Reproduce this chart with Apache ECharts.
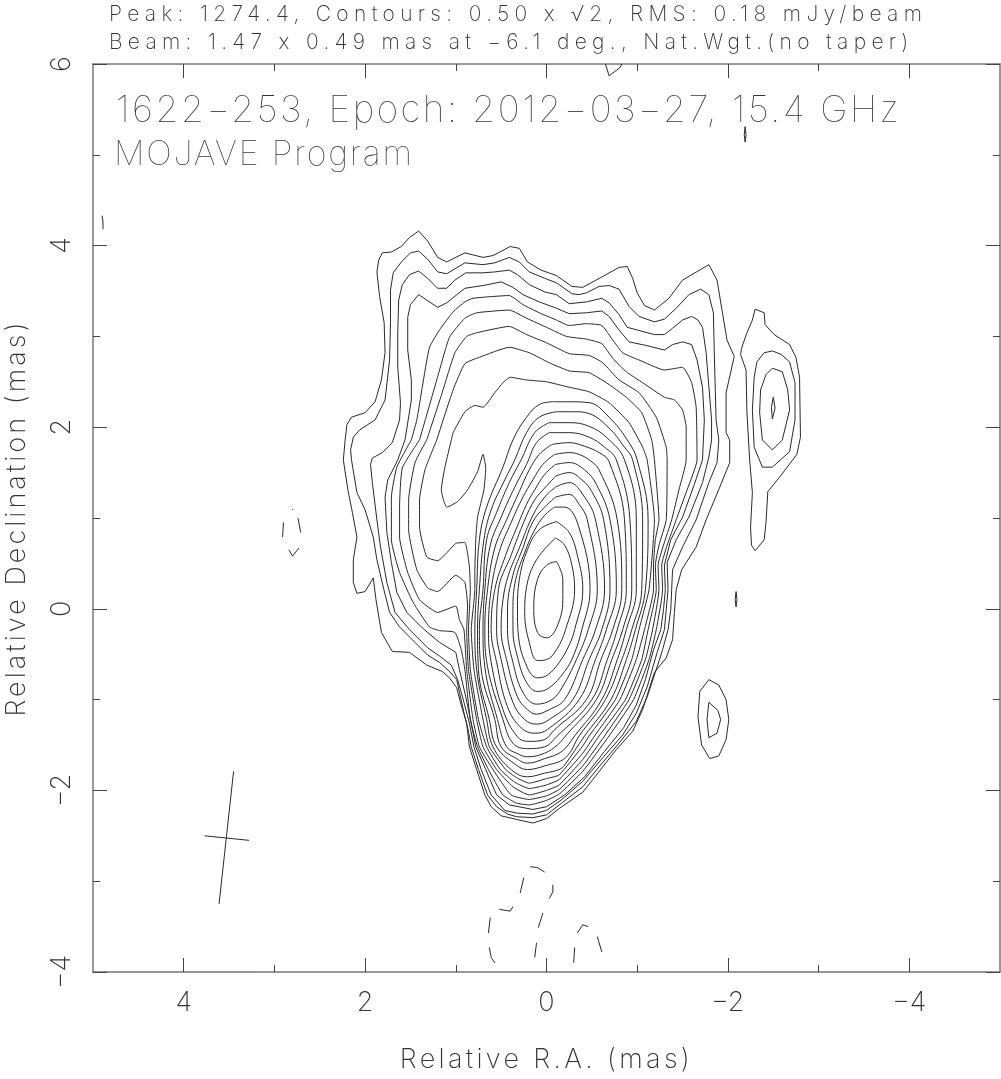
<!DOCTYPE html>
<html>
<head>
<meta charset="utf-8">
<style>html,body{margin:0;padding:0;background:#fff}#c{width:1001px;height:1079px}#c svg{will-change:transform;transform:translateZ(0)}</style>
<script src="https://cdn.jsdelivr.net/npm/echarts@6/dist/echarts.min.js"></script>
</head>
<body>
<div id="c"></div>
<script>
// Tick labels / positions (mas)
const xMajor=[-4,-2,0,2,4], xMinor=[-3,-1,1,3];
const yMajor=[-4,-2,0,2,4,6], yMinor=[-3,-1,1,3,5];
// Text
const line1="Peak: 1274.4, Contours: 0.50 x √2, RMS: 0.18 mJy/beam";
const line2="Beam: 1.47 x 0.49 mas at −6.1 deg., Nat.Wgt.(no taper)";
const line3="1622−253, Epoch: 2012−03−27, 15.4 GHz";
const line4="MOJAVE Program";
const xName="Relative R.A. (mas)", yName="Relative Declination (mas)";
// Contours: [R.A., Dec.] in mas, outermost to innermost
const c1=[[1.41,4.16],[1.51,4.09],[1.60,3.99],[1.71,3.93],[1.81,3.92],[1.85,3.84],[1.87,3.71],[1.84,3.44],[1.79,3.15],[1.78,2.82],[1.82,2.52],[1.89,2.28],[2.00,2.16],[2.15,2.11],[2.20,2.03],[2.22,1.86],[2.24,1.64],[2.19,1.31],[2.14,1.06],[2.09,.79],[2.13,.54],[2.13,.29],[2.09,.17],[2.00,.19],[1.91,.34],[1.88,.10],[1.82,-.26],[1.70,-.47],[1.51,-.48],[1.32,-.62],[1.15,-.69],[1.07,-.76],[.99,-.87],[.94,-1.06],[.88,-1.26],[.85,-1.52],[.77,-1.77],[.68,-2.05],[.61,-2.18],[.50,-2.28],[.33,-2.32],[.15,-2.36],[0,-2.31],[-.14,-2.20],[-.40,-2.02],[-.55,-1.83],[-.77,-1.55],[-.95,-1.35],[-1.06,-1.11],[-1.19,-.70],[-1.32,-.54],[-1.39,-.34],[-1.41,-.04],[-1.43,.21],[-1.49,.43],[-1.65,.68],[-1.76,.98],[-1.91,1.34],[-2.02,1.61],[-2.02,1.86],[-1.98,1.94],[-1.98,2.38],[-2.07,2.78],[-1.99,2.96],[-1.94,3.26],[-1.88,3.62],[-1.79,3.79],[-1.50,3.62],[-1.35,3.42],[-1.19,3.29],[-1.08,3.34],[-1.00,3.48],[-.95,3.64],[-.89,3.77],[-.80,3.76],[-.62,3.66],[-.40,3.54],[-.28,3.55],[-.11,3.67],[.06,3.73],[.21,3.82],[.30,3.97],[.40,3.99],[.59,3.89],[.70,3.87],[.90,3.92],[1.10,3.82],[1.20,3.87],[1.31,4.05]];
const c2=[[1.41,3.94],[1.50,3.92],[1.60,3.82],[1.69,3.70],[1.72,3.51],[1.72,3.15],[1.73,2.74],[1.78,2.30],[1.89,2.08],[2.06,1.97],[2.13,1.89],[2.16,1.75],[2.15,1.64],[2.09,1.28],[2.00,1.09],[1.91,.79],[1.87,.54],[1.80,.24],[1.73,-.04],[1.62,-.20],[1.45,-.37],[1.31,-.51],[1.18,-.59],[1.07,-.69],[.99,-.78],[.96,-.92],[.90,-1.19],[.86,-1.35],[.83,-1.52],[.75,-1.77],[.65,-2.05],[.55,-2.18],[.43,-2.26],[.33,-2.29],[.15,-2.30],[0,-2.27],[-.14,-2.16],[-.40,-1.96],[-.58,-1.74],[-.80,-1.48],[-.99,-1.24],[-1.11,-.97],[-1.21,-.67],[-1.28,-.45],[-1.34,-.23],[-1.37,-.01],[-1.38,.21],[-1.39,.43],[-1.50,.68],[-1.65,.98],[-1.79,1.39],[-1.88,1.61],[-1.90,1.86],[-1.87,2.08],[-1.85,2.82],[-1.84,3.26],[-1.79,3.46],[-1.70,3.52],[-1.57,3.46],[-1.43,3.31],[-1.30,3.19],[-1.19,3.16],[-1.02,3.22],[-.91,3.33],[-.80,3.52],[-.69,3.56],[-.58,3.55],[-.44,3.48],[-.36,3.46],[-.28,3.47],[-.11,3.59],[.02,3.64],[.19,3.71],[.30,3.82],[.41,3.87],[.57,3.81],[.70,3.79],[.90,3.81],[1.10,3.69],[1.20,3.71],[1.31,3.85]];
const c3=[[1.41,3.72],[1.51,3.68],[1.59,3.57],[1.63,3.40],[1.64,3.04],[1.64,2.66],[1.61,2.27],[1.62,2.08],[1.70,1.83],[1.81,1.72],[1.92,1.66],[1.94,1.59],[1.92,1.39],[1.87,.98],[1.83,.68],[1.76,.29],[1.67,-.04],[1.51,-.23],[1.31,-.43],[1.18,-.52],[1.05,-.62],[.98,-.78],[.91,-1.03],[.85,-1.26],[.80,-1.52],[.72,-1.77],[.61,-2.05],[.46,-2.22],[.33,-2.25],[.15,-2.26],[0,-2.22],[-.17,-2.10],[-.40,-1.90],[-.62,-1.64],[-.84,-1.39],[-.99,-1.15],[-1.11,-.86],[-1.22,-.48],[-1.30,-.23],[-1.32,-.01],[-1.34,.21],[-1.33,.51],[-1.43,.76],[-1.57,1.01],[-1.72,1.39],[-1.79,1.67],[-1.82,1.86],[-1.82,2.08],[-1.76,2.82],[-1.72,3.10],[-1.67,3.18],[-1.60,3.22],[-1.50,3.18],[-1.39,3.09],[-1.30,3.02],[-1.19,3.02],[-.89,3.10],[-.80,3.24],[-.69,3.37],[-.61,3.42],[-.44,3.38],[-.25,3.36],[-.11,3.46],[.02,3.49],[.19,3.57],[.32,3.68],[.41,3.73],[.57,3.71],[.70,3.70],[.89,3.70],[1.01,3.62],[1.10,3.53],[1.20,3.53],[1.31,3.64]];
const c4=[[1.41,3.46],[1.50,3.35],[1.53,3.21],[1.53,2.85],[1.49,2.52],[1.49,2.30],[1.56,1.86],[1.64,1.64],[1.75,1.42],[1.78,1.23],[1.76,.84],[1.71,.51],[1.65,.18],[1.54,-.04],[1.37,-.21],[1.18,-.37],[1.00,-.48],[.96,-.67],[.89,-.97],[.83,-1.26],[.78,-1.52],[.67,-1.77],[.55,-2.05],[.41,-2.16],[.15,-2.21],[0,-2.18],[-.20,-2.05],[-.42,-1.85],[-.64,-1.57],[-.85,-1.31],[-.99,-1.06],[-1.09,-.78],[-1.18,-.45],[-1.26,-.23],[-1.29,-.01],[-1.31,.21],[-1.30,.48],[-1.37,.76],[-1.50,1.01],[-1.63,1.37],[-1.72,1.64],[-1.74,2.08],[-1.72,2.44],[-1.66,2.74],[-1.60,2.91],[-1.50,2.94],[-1.39,2.91],[-1.30,2.85],[-1.10,2.90],[-.91,2.94],[-.80,3.07],[-.69,3.22],[-.61,3.28],[-.44,3.26],[-.25,3.25],[-.11,3.31],[.08,3.38],[.26,3.46],[.37,3.54],[.50,3.60],[.70,3.56],[.90,3.53],[1.10,3.37],[1.20,3.32]];
const c5=[[1.49,1.86],[1.65,1.56],[1.71,1.23],[1.71,.76],[1.62,.40],[1.47,.07],[1.29,-.20],[1.18,-.24],[1.01,-.26],[.94,-.45],[.90,-.67],[.84,-1.22],[.76,-1.52],[.64,-1.77],[.48,-2.05],[.33,-2.14],[.19,-2.16],[0,-2.11],[-.14,-2.04],[-.40,-1.79],[-.69,-1.40],[-.96,-1.00],[-1.13,-.56],[-1.21,-.23],[-1.28,.21],[-1.27,.48],[-1.33,.70],[-1.43,.98],[-1.55,1.31],[-1.66,1.64],[-1.65,2.22],[-1.60,2.49],[-1.50,2.66],[-1.30,2.63],[-1.02,2.74],[-.84,2.82],[-.73,2.96],[-.61,3.12],[-.44,3.14],[-.25,3.12],[-.11,3.18],[.08,3.26],[.26,3.35],[.41,3.45],[.81,3.42],[.90,3.38],[1.03,3.27],[1.18,3.07],[1.29,2.88],[1.37,2.44],[1.43,2.08]];
const c6=[[1.40,1.86],[1.59,1.55],[1.62,1.12],[1.62,.79],[1.53,.40],[1.40,.10],[1.20,-.04],[1.00,.03],[.96,-.12],[.91,-.23],[.88,-.67],[.81,-1.22],[.74,-1.52],[.59,-1.77],[.39,-2.05],[.19,-2.10],[0,-2.06],[-.14,-1.99],[-.40,-1.73],[-.64,-1.40],[-.91,-1.00],[-1.09,-.56],[-1.17,-.23],[-1.24,.21],[-1.23,.48],[-1.29,.70],[-1.38,.98],[-1.46,1.31],[-1.54,1.64],[-1.54,2.00],[-1.50,2.19],[-1.41,2.30],[-1.30,2.33],[-1.06,2.49],[-.88,2.61],[-.73,2.76],[-.61,2.92],[-.44,2.97],[-.22,3.00],[0,3.10],[.22,3.20],[.41,3.29],[.77,3.26],[.90,3.20],[1.07,2.99],[1.21,2.52]];
const c7=[[1.32,1.86],[1.45,1.61],[1.52,1.20],[1.52,.87],[1.43,.43],[1.31,.23],[1.20,.19],[1.00,.37],[.90,.29],[.87,.02],[.88,-.23],[.86,-.67],[.77,-1.22],[.70,-1.52],[.55,-1.77],[.37,-1.96],[.19,-2.05],[0,-2.00],[-.14,-1.94],[-.40,-1.66],[-.58,-1.40],[-.87,-1.00],[-1.05,-.56],[-1.12,-.23],[-1.21,.21],[-1.20,.48],[-1.24,.70],[-1.32,.98],[-1.33,1.64],[-1.32,1.78],[-1.21,2.11],[-1.02,2.38],[-.80,2.52],[-.62,2.71],[-.47,2.79],[-.25,2.81],[0,2.93],[.22,3.02],[.41,3.11],[.77,3.04],[.88,3.00],[1.01,2.82],[1.15,2.38]];
const c8=[[1.21,1.86],[1.34,1.53],[1.40,1.20],[1.40,.90],[1.32,.57],[1.20,.53],[1.00,.72],[.90,.73],[.85,.46],[.84,.21],[.86,-.23],[.84,-.67],[.75,-1.22],[.66,-1.52],[.51,-1.77],[.35,-1.91],[.19,-1.98],[0,-1.94],[-.14,-1.88],[-.40,-1.59],[-.53,-1.40],[-.81,-1.00],[-.99,-.56],[-1.08,-.23],[-1.18,.21],[-1.18,.48],[-1.20,.76],[-1.24,.98],[-1.19,1.64],[-1.16,1.86],[-1.05,2.16],[-.88,2.33],[-.66,2.49],[-.47,2.60],[-.25,2.62],[-.03,2.71],[.19,2.82],[.41,2.88],[.74,2.77],[.90,2.70],[1.03,2.41]];
const c9=[[1.03,1.94],[.90,2.17],[.79,2.24],[.70,2.22],[.57,2.38],[.48,2.49],[.40,2.55],[.22,2.52],[0,2.50],[-.25,2.44],[-.47,2.39],[-.69,2.27],[-.91,2.05],[-1.06,1.78],[-1.11,1.64],[-1.19,.98],[-1.13,.21],[-1.02,-.23],[-.94,-.56],[-.76,-1.00],[-.47,-1.40],[-.40,-1.51],[-.14,-1.83],[0,-1.87],[.19,-1.92],[.33,-1.86],[.45,-1.77],[.63,-1.52],[.70,-1.22],[.80,-.67],[.83,-.23],[.79,.21],[.79,.40],[.78,.76],[.76,1.01],[.69,1.31],[.67,1.55],[.70,1.70],[.76,1.51],[.87,1.31],[.98,1.18],[1.10,1.12],[1.13,1.18],[1.16,1.31],[1.12,1.56]];
const c10=[[-.07,2.28],[.08,2.25],[.22,2.11],[.37,1.86],[.48,1.56],[.66,1.12],[.74,.76],[.77,.21],[.79,-.23],[.77,-.67],[.66,-1.22],[.59,-1.52],[.39,-1.77],[.21,-1.85],[.02,-1.81],[-.14,-1.77],[-.20,-1.72],[-.42,-1.40],[-.71,-1.00],[-.88,-.56],[-.98,-.23],[-1.09,.21],[-1.12,.98],[-1.00,1.64],[-.89,1.86],[-.69,2.11],[-.47,2.27],[-.25,2.28]];
const c11=[[-.11,2.17],[.08,2.11],[.22,1.94],[.35,1.64],[.46,1.42],[.61,1.09],[.69,.76],[.74,.21],[.76,-.23],[.75,-.67],[.63,-1.22],[.55,-1.52],[.32,-1.73],[.21,-1.77],[.02,-1.73],[-.21,-1.64],[-.36,-1.40],[-.65,-1.00],[-.83,-.56],[-.94,-.23],[-1.05,.21],[-1.06,.98],[-.95,1.64],[-.86,1.78],[-.69,1.99],[-.47,2.15],[-.31,2.17]];
const c12=[[-.03,2.05],[.13,1.94],[.28,1.64],[.41,1.39],[.55,1.06],[.66,.76],[.70,.21],[.74,-.23],[.72,-.67],[.57,-1.22],[.50,-1.52],[.33,-1.65],[.21,-1.70],[.02,-1.65],[-.17,-1.57],[-.31,-1.40],[-.61,-1.00],[-.78,-.56],[-.88,-.23],[-.99,.21],[-.99,.98],[-.86,1.64],[-.67,1.88],[-.47,2.01],[-.25,2.05]];
const c13=[[-.03,1.94],[.11,1.83],[.22,1.59],[.35,1.34],[.50,1.01],[.62,.70],[.68,.21],[.70,-.23],[.68,-.64],[.54,-1.22],[.44,-1.52],[.33,-1.59],[.21,-1.63],[.02,-1.59],[-.12,-1.50],[-.21,-1.40],[-.55,-1.00],[-.72,-.56],[-.84,-.23],[-.94,.21],[-.92,.98],[-.77,1.64],[-.64,1.78],[-.47,1.89],[-.25,1.94]];
const c14=[[-.06,1.81],[.08,1.70],[.19,1.53],[.30,1.29],[.44,.98],[.57,.67],[.65,.21],[.68,-.23],[.65,-.64],[.48,-1.22],[.37,-1.48],[.21,-1.54],[.02,-1.52],[-.10,-1.42],[-.50,-1.00],[-.67,-.56],[-.78,-.23],[-.88,.21],[-.86,.98],[-.69,1.62],[-.58,1.72],[-.42,1.79],[-.25,1.83]];
const c15=[[-.09,1.70],[.04,1.59],[.15,1.42],[.26,1.23],[.39,.95],[.52,.63],[.61,.21],[.64,-.23],[.61,-.59],[.48,-1.11],[.32,-1.41],[.19,-1.46],[.02,-1.44],[-.08,-1.34],[-.44,-1.00],[-.60,-.56],[-.73,-.23],[-.83,.21],[-.78,.98],[-.58,1.53],[-.47,1.64],[-.36,1.70],[-.25,1.72]];
const c16=[[-.10,1.59],[.02,1.48],[.13,1.31],[.22,1.15],[.33,.89],[.45,.59],[.57,.21],[.61,-.23],[.55,-.59],[.43,-1.08],[.28,-1.31],[.13,-1.37],[-.01,-1.33],[-.36,-1.00],[-.54,-.56],[-.66,-.23],[-.77,.21],[-.70,.98],[-.55,1.37],[-.42,1.53],[-.25,1.61]];
const c17=[[-.10,1.46],[.02,1.33],[.13,1.20],[.24,.98],[.39,.59],[.53,.21],[.55,-.23],[.50,-.56],[.37,-1.03],[.24,-1.22],[.11,-1.27],[-.03,-1.22],[-.29,-1.00],[-.47,-.56],[-.61,-.23],[-.70,.21],[-.63,.98],[-.50,1.29],[-.39,1.42],[-.25,1.50]];
const c18=[[-.10,1.34],[.02,1.23],[.15,1.03],[.30,.67],[.42,.37],[.48,.10],[.50,-.23],[.44,-.56],[.32,-.97],[.21,-1.11],[.11,-1.16],[-.03,-1.11],[-.20,-1.00],[-.40,-.56],[-.54,-.23],[-.64,.21],[-.54,.98],[-.42,1.23],[-.25,1.39]];
const c19=[[-.10,1.23],[.02,1.12],[.15,.96],[.26,.67],[.37,.37],[.43,-.01],[.43,-.23],[.37,-.59],[.26,-.92],[.11,-1.05],[-.06,-1.00],[-.17,-.87],[-.33,-.56],[-.46,-.23],[-.56,.21],[-.45,.98],[-.36,1.15],[-.25,1.26]];
const c20=[[-.09,1.12],[.02,1.03],[.13,.87],[.24,.62],[.34,.32],[.37,-.01],[.37,-.23],[.32,-.53],[.22,-.81],[.10,-.91],[-.03,-.87],[-.20,-.69],[-.30,-.51],[-.39,-.23],[-.48,.21],[-.35,.92],[-.20,1.12]];
const c21=[[-.11,.96],[.08,.87],[.21,.65],[.30,.32],[.32,-.01],[.31,-.29],[.21,-.65],[.10,-.76],[-.01,-.73],[-.14,-.59],[-.25,-.40],[-.31,-.23],[-.40,.21],[-.34,.59],[-.25,.84]];
const c22=[[-.10,.78],[.11,.54],[.22,.24],[.24,-.04],[.19,-.37],[.10,-.57],[0,-.56],[-.11,-.45],[-.21,-.23],[-.31,.21],[-.28,.48],[-.20,.70]];
const c23=[[-.11,.52],[0,.48],[.10,.32],[.14,.02],[.10,-.26],[0,-.32],[-.11,-.21],[-.18,.10],[-.18,.32]];
// Separate positive islands
const islandA1=[[-2.30,3.30],[-2.27,3.18],[-2.21,3.04],[-2.15,2.87],[-2.14,2.80],[-2.20,2.63],[-2.21,2.16],[-2.24,1.64],[-2.27,1.28],[-2.25,.90],[-2.26,.70],[-2.30,.64],[-2.40,.76],[-2.42,.95],[-2.44,1.29],[-2.57,1.45],[-2.76,1.70],[-2.80,1.89],[-2.79,2.55],[-2.75,2.77],[-2.68,2.91],[-2.51,3.02],[-2.41,3.13],[-2.40,3.26]];
const islandA2=[[-2.49,2.84],[-2.40,2.82],[-2.32,2.72],[-2.29,2.55],[-2.27,2.19],[-2.29,1.78],[-2.38,1.56],[-2.49,1.56],[-2.68,1.73],[-2.74,2.08],[-2.74,2.49],[-2.68,2.72],[-2.59,2.80]];
const islandA3=[[-2.49,2.65],[-2.42,2.58],[-2.36,2.41],[-2.35,2.16],[-2.38,1.86],[-2.49,1.75],[-2.60,1.86],[-2.68,2.19],[-2.66,2.41],[-2.60,2.61]];
const islandA4=[[-2.50,2.33],[-2.48,2.22],[-2.49,2.09],[-2.52,2.21]];
const islandB1=[[-1.79,-.78],[-1.69,-.91],[-1.67,-1.19],[-1.71,-1.50],[-1.80,-1.65],[-1.90,-1.62],[-1.98,-1.44],[-2.01,-1.22],[-1.98,-1.00],[-1.90,-.84]];
const islandB2=[[-1.79,-1.03],[-1.77,-1.22],[-1.79,-1.42],[-1.88,-1.37],[-1.92,-1.22],[-1.89,-1.12]];
const speckTop=[[-2.19,5.31],[-2.18,5.22],[-2.19,5.14],[-2.20,5.22]];
const speckMid=[[-2.09,.19],[-2.08,.10],[-2.09,.02],[-2.10,.10]];
const edgeTop=[[-.65,6.00],[-.69,5.87],[-.81,5.96],[-.83,6.00]];
const edgeLeft=[[4.90,4.33],[4.89,4.26],[4.89,4.18]];
// Negative contours: drawn pieces of the dashes, null = gap
const negA=[[.57,-3.90],[.61,-3.84],[.63,-3.73],null,[.64,-3.57],[.62,-3.40],null,[.52,-3.31],[.40,-3.33],[.37,-3.28],null,[.29,-3.13],[.25,-2.96],null,[.18,-2.84],[.10,-2.85],[.02,-2.90],null,[-.07,-3.04],[-.07,-3.12],[-.03,-3.19],null,[.04,-3.35],[.09,-3.51],null,[.11,-3.68],[.13,-3.84]];
const negB=[[-.30,-3.90],[-.31,-3.73],null,[-.34,-3.57],[-.40,-3.48],[-.46,-3.50],null,[-.56,-3.61],[-.61,-3.78]];
const negC=[[2.91,.79],[2.90,.95],null,[2.74,1.00],[2.71,.84],null,[2.84,.65],[2.80,.58],[2.73,.67],null,[2.80,1.10],[2.80,1.09]];
// Beam cross
const beamMajor=[[3.45,-1.79],[3.61,-3.25]];
const beamMinor=[[3.77,-2.50],[3.28,-2.55]];

const closedOuter=[c1,c2,c3,c4,islandA1,islandA2,islandA3,islandA4,islandB1,islandB2,speckTop,speckMid];
const closedMid=[c5,c6,c7,c8,c9];
const closedInner=[c10,c11,c12,c13,c14,c15,c16,c17,c18,c19,c20,c21,c22,c23];
const openLines=[edgeTop,edgeLeft,negA,negB,negC,beamMajor,beamMinor];

const LINE='#2a2a2a', FRAME='#777', TXT='#333', FONT='Inter';
const mk=(data,smooth)=>({type:'line',data:data,smooth:smooth,showSymbol:false,symbol:'none',silent:true,connectNulls:false,
  animation:false,lineStyle:{color:LINE,width:1},xAxisIndex:0,yAxisIndex:0,clip:true});
const close=a=>a.concat([a[0]]);
const series=[...closedOuter.map(a=>mk(close(a),false)),...closedMid.map(a=>mk(close(a),0.15)),...closedInner.map(a=>mk(close(a),0.4)),...openLines.map(a=>mk(a,false))];

const fmt=v=>String(v).replace('-','−');
const big={color:TXT,fontFamily:FONT,fontWeight:200,fontSize:27};
const xa=(pos,vals,len,main)=>({type:'value',position:pos,min:-5,max:5,inverse:true,
  axisLine:{show:main,onZero:false,lineStyle:{color:FRAME,width:1.5}},splitLine:{show:false},
  axisTick:{show:true,inside:true,length:len,customValues:vals,lineStyle:{color:'#444',width:1}},
  axisLabel:(pos==='bottom'&&main)?{show:true,customValues:xMajor,formatter:fmt,...big,margin:16}:{show:false},
  ...((pos==='bottom'&&main)?{name:xName,nameLocation:'middle',nameGap:73,nameTextStyle:big}:{})});
const ya=(pos,vals,len,main)=>({type:'value',position:pos,min:-4,max:6,
  axisLine:{show:main,onZero:false,lineStyle:{color:FRAME,width:1.5}},splitLine:{show:false},
  axisTick:{show:true,inside:true,length:len,customValues:vals,lineStyle:{color:'#444',width:1}},
  axisLabel:(pos==='left'&&main)?{show:true,customValues:yMajor,formatter:fmt,rotate:90,...big,margin:19}:{show:false},
  ...((pos==='left'&&main)?{name:yName,nameLocation:'middle',nameGap:64,nameRotate:90,nameTextStyle:big}:{})});
const ttl=(text,left,top,size,w)=>({text:text,left:left,top:top,padding:0,textStyle:{color:TXT,fontFamily:FONT,fontWeight:w,fontSize:size}});

const chart=echarts.init(document.getElementById('c'),null,{renderer:'svg',width:1001,height:1079});
chart.setOption({
  animation:false,backgroundColor:'#fff',
  title:[ttl(line1,109,3,21,200),ttl(line2,109,31,21,200),ttl(line3,116,90,37,100),ttl(line4,114,135,34,100)],
  grid:{left:93,top:64,width:907,height:908,containLabel:false,outerBoundsMode:'none'},
  xAxis:[xa('bottom',xMajor,14,true),xa('top',xMajor,14,true),xa('bottom',xMinor,7,false),xa('top',xMinor,7,false)],
  yAxis:[ya('left',yMajor,14,true),ya('right',yMajor,14,true),ya('left',yMinor,7,false),ya('right',yMinor,7,false)],
  series:series
});
// Fit the stroke-font text widths by letter spacing
const widths={[line1]:813,[line2]:802,[line3]:783,[line4]:298,[xName]:290,[yName]:394};
function fit(){document.querySelectorAll('svg text').forEach(t=>{const w=widths[t.textContent];if(!w)return;
  t.style.letterSpacing='0px';const n=t.getComputedTextLength();t.style.letterSpacing=((w-n)/(t.textContent.length-1))+'px';});}
fit();chart.on('finished',fit);
</script>
</body>
</html>
